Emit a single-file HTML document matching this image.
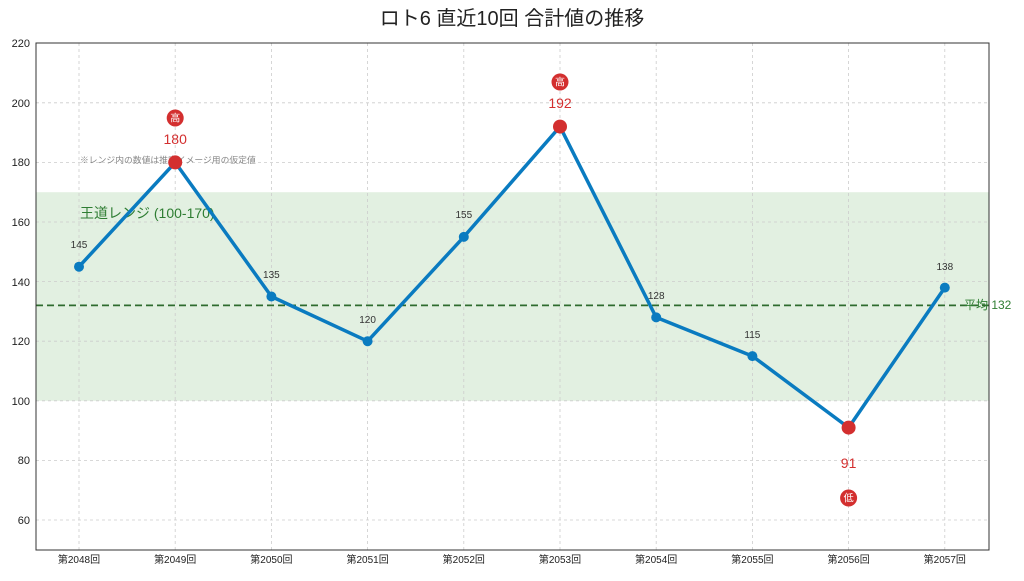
<!DOCTYPE html>
<html><head><meta charset="utf-8"><style>
body{margin:0;background:#fff}
text{font-family:"Liberation Sans","Noto Sans CJK JP",sans-serif}
</style></head><body>
<svg width="1024" height="576" xmlns="http://www.w3.org/2000/svg">
<rect width="1024" height="576" fill="#fff"/>
<text x="512" y="25" font-size="20" text-anchor="middle" fill="#222">ロト6 直近10回 合計値の推移</text>
<rect x="36" y="192.2" width="953" height="208.6" fill="#e2f0e1"/>
<g stroke="#ccc" stroke-dasharray="3,3" stroke-width="0.8">
<line x1="36" x2="989" y1="520" y2="520"/><line x1="36" x2="989" y1="460.4" y2="460.4"/><line x1="36" x2="989" y1="400.8" y2="400.8"/><line x1="36" x2="989" y1="341.2" y2="341.2"/><line x1="36" x2="989" y1="281.6" y2="281.6"/><line x1="36" x2="989" y1="222" y2="222"/><line x1="36" x2="989" y1="162.4" y2="162.4"/><line x1="36" x2="989" y1="102.8" y2="102.8"/>
<line y1="43" y2="550" x1="79" x2="79"/><line y1="43" y2="550" x1="175.2" x2="175.2"/><line y1="43" y2="550" x1="271.4" x2="271.4"/><line y1="43" y2="550" x1="367.6" x2="367.6"/><line y1="43" y2="550" x1="463.8" x2="463.8"/><line y1="43" y2="550" x1="560" x2="560"/><line y1="43" y2="550" x1="656.2" x2="656.2"/><line y1="43" y2="550" x1="752.4" x2="752.4"/><line y1="43" y2="550" x1="848.6" x2="848.6"/><line y1="43" y2="550" x1="944.8" x2="944.8"/>
</g>
<line x1="36" x2="989" y1="305.4" y2="305.4" stroke="#2e6b2e" stroke-width="1.8" stroke-dasharray="7,4"/>
<text x="964" y="309" font-size="12" fill="#2e7d32">平均 132</text>
<text x="80" y="218" font-size="14" fill="#2e7d32">王道レンジ (100-170)</text>
<text x="80" y="163" font-size="8.8" fill="#888">※レンジ内の数値は推定イメージ用の仮定値</text>
<rect x="36" y="43" width="953" height="507" fill="none" stroke="#333" stroke-width="1"/>
<g font-size="11" fill="#222" text-anchor="end">
<text x="30" y="524">60</text><text x="30" y="464">80</text><text x="30" y="405">100</text><text x="30" y="345">120</text><text x="30" y="286">140</text><text x="30" y="226">160</text><text x="30" y="166">180</text><text x="30" y="107">200</text><text x="30" y="47">220</text>
</g>
<g font-size="10" fill="#222" text-anchor="middle">
<text x="79" y="563">第2048回</text><text x="175.2" y="563">第2049回</text><text x="271.4" y="563">第2050回</text><text x="367.6" y="563">第2051回</text><text x="463.8" y="563">第2052回</text><text x="560" y="563">第2053回</text><text x="656.2" y="563">第2054回</text><text x="752.4" y="563">第2055回</text><text x="848.6" y="563">第2056回</text><text x="944.8" y="563">第2057回</text>
</g>
<polyline fill="none" stroke="#0a7bc0" stroke-width="3.5" stroke-linejoin="round" points="79,266.7 175.2,162.4 271.4,296.5 367.6,341.2 463.8,236.9 560,126.6 656.2,317.4 752.4,356.1 848.6,427.6 944.8,287.6"/>
<g fill="#0a7bc0"><circle cx="79" cy="266.7" r="5"/><circle cx="271.4" cy="296.5" r="5"/><circle cx="367.6" cy="341.2" r="5"/><circle cx="463.8" cy="236.9" r="5"/><circle cx="656.2" cy="317.4" r="5"/><circle cx="752.4" cy="356.1" r="5"/><circle cx="944.8" cy="287.6" r="5"/></g>
<g fill="#d32f2f"><circle cx="175.2" cy="162.4" r="7"/><circle cx="560" cy="126.6" r="7"/><circle cx="848.6" cy="427.6" r="7"/></g>
<g font-size="10" fill="#333" text-anchor="middle">
<text x="79" y="248">145</text><text x="271.4" y="278">135</text><text x="367.6" y="323">120</text><text x="463.8" y="218">155</text><text x="656.2" y="299">128</text><text x="752.4" y="338">115</text><text x="944.8" y="270">138</text>
</g>
<g font-size="14" fill="#d32f2f" text-anchor="middle">
<text x="175.2" y="144">180</text><text x="560" y="108">192</text><text x="848.6" y="468">91</text>
</g>
<g fill="#d32f2f"><circle cx="175.2" cy="118" r="8.5"/><circle cx="560" cy="82" r="8.5"/><circle cx="848.6" cy="498" r="8.5"/></g>
<g font-size="10" fill="#fff" text-anchor="middle">
<text x="175.2" y="121.5">高</text><text x="560" y="85.5">高</text><text x="848.6" y="501.5">低</text>
</g>
</svg>
</body></html>
